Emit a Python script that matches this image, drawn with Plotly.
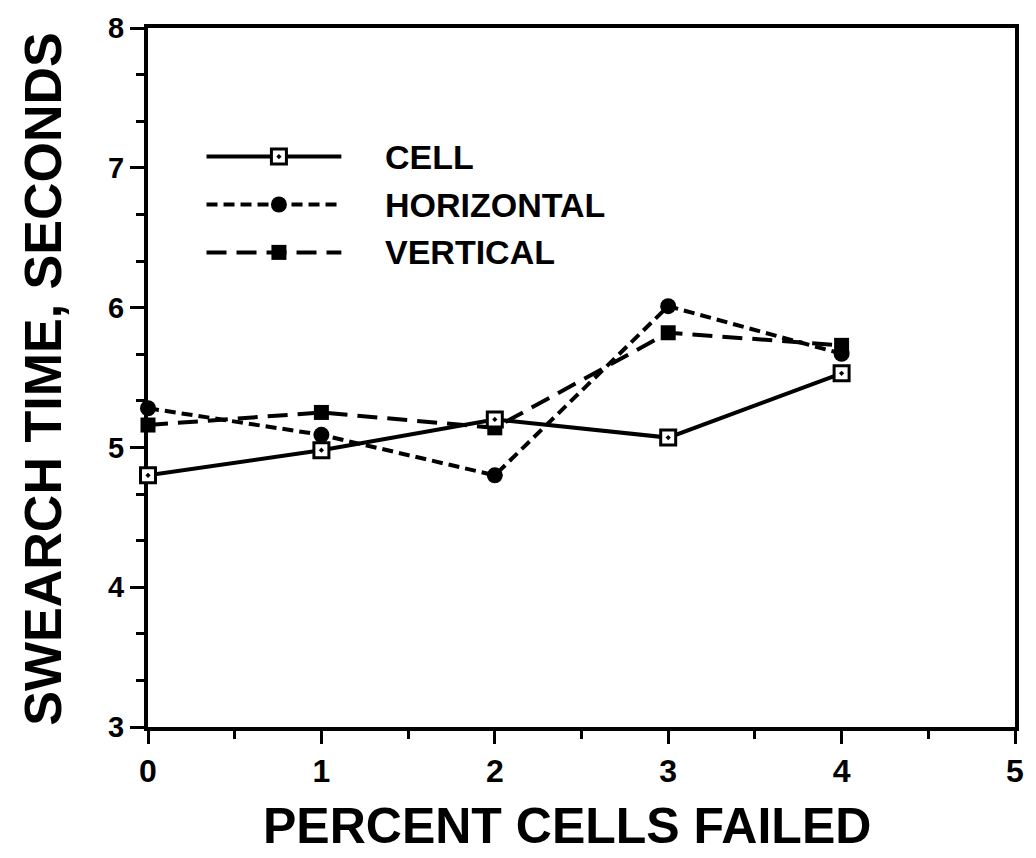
import plotly.graph_objects as go

# ---- data ----
x_vals = [0, 1, 2, 3, 4]
cell = [4.80, 4.98, 5.20, 5.07, 5.53]
horizontal = [5.28, 5.09, 4.80, 6.01, 5.67]
vertical = [5.16, 5.25, 5.14, 5.82, 5.73]

series_names = ["CELL", "HORIZONTAL", "VERTICAL"]
x_ticks = [0, 1, 2, 3, 4, 5]
y_ticks = [3, 4, 5, 6, 7, 8]

FONT = "Liberation Sans, Arial, Helvetica, sans-serif"
BLACK = "#000000"

styles = {
    "CELL": dict(dash="solid", symbol="square-dot", size=15, color="white", lw=3),
    "HORIZONTAL": dict(dash="11px,6px", symbol="circle", size=16, color=BLACK, lw=0),
    "VERTICAL": dict(dash="20px,10px", symbol="square", size=15, color=BLACK, lw=0),
}
data = {"CELL": cell, "HORIZONTAL": horizontal, "VERTICAL": vertical}

fig = go.Figure()

# draw dashed series first, cell on top
for name in ["HORIZONTAL", "VERTICAL", "CELL"]:
    s = styles[name]
    fig.add_trace(go.Scatter(
        x=x_vals, y=data[name], mode="lines+markers", name=name,
        line=dict(color=BLACK, width=4, dash=s["dash"]),
        marker=dict(symbol=s["symbol"], size=s["size"], color=s["color"],
                    line=dict(color=BLACK, width=s["lw"])),
        cliponaxis=False, showlegend=False,
    ))

# ---- hand-drawn legend on an overlay paper-like axis ----
leg_x0, leg_x1, leg_xm = 0.0675, 0.223, 0.151
leg_ys = [0.816, 0.7475, 0.679]
for name, ly in zip(series_names, leg_ys):
    s = styles[name]
    fig.add_trace(go.Scatter(
        x=[leg_x0, leg_x1], y=[ly, ly], mode="lines",
        line=dict(color=BLACK, width=4, dash=s["dash"]),
        xaxis="x2", yaxis="y2", showlegend=False, hoverinfo="skip", cliponaxis=False,
    ))
    fig.add_trace(go.Scatter(
        x=[leg_xm], y=[ly], mode="markers",
        marker=dict(symbol=s["symbol"], size=s["size"], color=s["color"],
                    line=dict(color=BLACK, width=s["lw"])),
        xaxis="x2", yaxis="y2", showlegend=False, hoverinfo="skip", cliponaxis=False,
    ))
    fig.add_annotation(
        x=0.271, y=ly, xref="x2", yref="y2", text=name, showarrow=False,
        xanchor="left", yanchor="middle",
        font=dict(family=FONT, size=34, color=BLACK, weight="bold"),
    )

# axis titles as annotations
fig.add_annotation(
    x=0.483, y=-0.141, xref="paper", yref="paper", text="PERCENT CELLS FAILED",
    showarrow=False, xanchor="center", yanchor="middle",
    font=dict(family=FONT, size=50, color=BLACK, weight="bold"),
)
fig.add_annotation(
    x=-0.121, y=0.497, xref="paper", yref="paper", text="SWEARCH TIME, SECONDS",
    showarrow=False, xanchor="center", yanchor="middle", textangle=-90,
    font=dict(family=FONT, size=52, color=BLACK, weight="bold"),
)

fig.update_layout(
    width=1036, height=858,
    margin=dict(l=148, r=14, t=22, b=131),
    paper_bgcolor="white", plot_bgcolor="white",
    showlegend=False,
    font=dict(family=FONT, color=BLACK),
    xaxis=dict(
        range=[0, 5], tickvals=x_ticks, ticktext=[str(v) for v in x_ticks],
        showgrid=False, zeroline=False, showline=True, linecolor=BLACK, linewidth=4,
        mirror=True, ticks="outside", ticklen=13, tickwidth=3, tickcolor=BLACK,
        minor=dict(dtick=0.5, ticks="outside", ticklen=8, tickwidth=3, tickcolor=BLACK, showgrid=False),
        tickfont=dict(family=FONT, size=32, color=BLACK, weight="bold"),
        layer="below traces", fixedrange=True,
    ),
    yaxis=dict(
        range=[3, 8], tickvals=y_ticks, ticktext=[str(v) for v in y_ticks],
        showgrid=False, zeroline=False, showline=True, linecolor=BLACK, linewidth=4,
        mirror=True, ticks="outside", ticklen=14, tickwidth=3, tickcolor=BLACK,
        minor=dict(tick0=3, dtick=1/3, ticks="outside", ticklen=8, tickwidth=3, tickcolor=BLACK, showgrid=False),
        tickfont=dict(family=FONT, size=29, color=BLACK, weight="bold"),
        layer="below traces", fixedrange=True,
    ),
    xaxis2=dict(range=[0, 1], overlaying="x", visible=False, fixedrange=True),
    yaxis2=dict(range=[0, 1], overlaying="y", visible=False, fixedrange=True),
)

fig.write_html("out.html")
